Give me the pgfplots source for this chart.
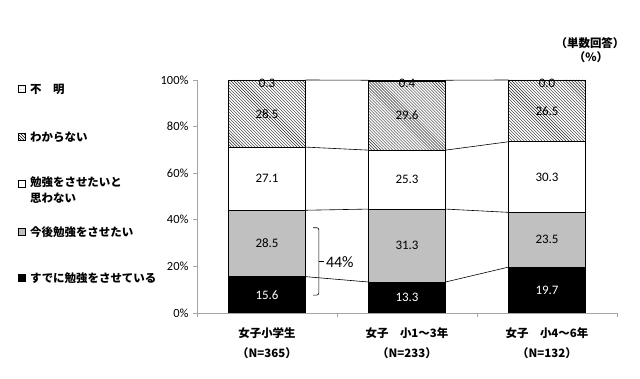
\documentclass[border=0pt]{standalone}
\usepackage{pgfplots}
\pgfplotsset{compat=1.18}
\usepackage{pgfplotstable}
\usepackage{fontspec}
\setmainfont{Carlito}
\newfontfamily\cjk{Noto Sans CJK JP}
\usetikzlibrary{patterns}
\definecolor{midgray}{RGB}{192,192,192}
\definecolor{axisgray}{RGB}{165,165,165}

\pgfplotstableread{
x sude kongo omowanai wakaranai fumei
0 15.6 28.5 27.1 28.5 0.3
1 13.3 31.3 25.3 29.6 0.4
2 19.7 23.5 30.3 26.5 0.0
}\shares

\pgfplotstableread{
x y lab
0 7.80 15.6
1 6.65 13.3
2 9.85 19.7
}\labwhite

\pgfplotstableread{
x y lab
0 29.85 28.5
0 57.65 27.1
0 85.45 28.5
0 98.5 0.3
1 28.95 31.3
1 57.25 25.3
1 84.7 29.6
1 98.5 0.4
2 31.45 23.5
2 58.35 30.3
2 86.75 26.5
2 98.5 0.0
}\labblack

\pgfplotsset{base/.style={at={(197bp,66bp)}, anchor=south west, scale only axis,
  width=420bp, height=233bp, xmin=-0.5, xmax=2.5, ymin=0, ymax=100}}

\begin{document}
\begin{tikzpicture}
\path[use as bounding box] (0,0) rectangle (640bp,379bp);
\begin{axis}[base, ybar stacked, bar width=0.55,
  axis x line*=bottom, axis y line*=left,
  axis line style={axisgray, line width=0.8pt, -},
  tick align=outside,
  xtick={0,1,2}, minor xtick={-0.5,0.5,1.5,2.5},
  major x tick style={draw=none},
  minor x tick style={axisgray, line width=0.8pt},
  minor tick length=4bp, major tick length=4bp,
  y tick style={axisgray, line width=0.8pt},
  ytick={0,20,40,60,80,100},
  yticklabel={\pgfmathprintnumber{\tick}\%},
  /pgf/number format/assume math mode=true,
  yticklabel style={font=\fontsize{12.5}{13}\selectfont, xshift=-1bp},
  xticklabels={女子小学生\\（N=365）, 女子　小1～3年\\（N=233）, 女子　小4～6年\\（N=132）},
  xticklabel style={align=center, font=\cjk\bfseries\fontsize{11.5}{20}\selectfont, yshift=-7bp},
]
\addplot[fill=black, draw=black, line width=0.6pt] table[x=x, y=sude]{\shares};
\addplot[fill=midgray, draw=black, line width=0.6pt] table[x=x, y=kongo]{\shares};
\addplot[fill=white, draw=black, line width=0.6pt] table[x=x, y=omowanai]{\shares};
\addplot[pattern=north west lines, pattern color=black!85, draw=black, line width=0.6pt] table[x=x, y=wakaranai]{\shares};
\addplot[pattern=dots, pattern color=gray, draw=black, line width=0.6pt] table[x=x, y=fumei]{\shares};
\end{axis}
\begin{axis}[base, hide axis, clip=false]
\addplot[black, line width=0.6pt, mark=none] coordinates {(0.275,15.6) (0.725,13.3)};
\addplot[black, line width=0.6pt, mark=none] coordinates {(0.275,44.1) (0.725,44.6)};
\addplot[black, line width=0.6pt, mark=none] coordinates {(0.275,71.2) (0.725,69.9)};
\addplot[black, line width=0.6pt, mark=none] coordinates {(0.275,100) (0.725,99.9)};
\addplot[black, line width=0.6pt, mark=none] coordinates {(1.275,13.3) (1.725,19.7)};
\addplot[black, line width=0.6pt, mark=none] coordinates {(1.275,44.6) (1.725,43.2)};
\addplot[black, line width=0.6pt, mark=none] coordinates {(1.275,69.9) (1.725,73.5)};
\addplot[black, line width=0.6pt, mark=none] coordinates {(1.275,99.9) (1.725,100)};
\addplot[draw=none, mark=none, nodes near coords, point meta=explicit symbolic,
  nodes near coords style={anchor=center, text=white, font=\fontsize{13}{14}\selectfont}]
  table[x=x, y=y, meta=lab]{\labwhite};
\addplot[draw=none, mark=none, nodes near coords, point meta=explicit symbolic,
  nodes near coords style={anchor=center, text=black, font=\fontsize{13}{14}\selectfont}]
  table[x=x, y=y, meta=lab]{\labblack};
\draw[black, line width=0.6pt, rounded corners=2bp]
  (axis cs:0.33,36.6) -- (axis cs:0.37,36.6) -- (axis cs:0.37,7.7) -- (axis cs:0.33,7.7);
\draw[black, line width=0.6pt] (axis cs:0.37,22) -- (axis cs:0.41,22);
\node[anchor=west, font=\fontsize{16}{17}\selectfont, inner sep=0pt] at (axis cs:0.42,22) {44\%};
\end{axis}
% legend
\begin{scope}[font=\cjk\bfseries\fontsize{11.5}{17}\selectfont]
\draw[black, line width=0.5pt, pattern=dots, pattern color=gray] (18.5bp,286.5bp) rectangle (25.5bp,293.5bp);
\node[anchor=west, inner sep=0pt] at (30bp,290bp) {不　明};
\draw[black, line width=0.5pt, pattern=north west lines] (18.5bp,238.5bp) rectangle (25.5bp,245.5bp);
\node[anchor=west, inner sep=0pt] at (30bp,242bp) {わからない};
\draw[black, line width=0.5pt, fill=white] (18.5bp,191.5bp) rectangle (25.5bp,198.5bp);
\node[anchor=north west, inner sep=0pt, align=left] at (30bp,203bp) {勉強をさせたいと\\思わない};
\draw[black, line width=0.5pt, fill=midgray] (18.5bp,143.5bp) rectangle (25.5bp,150.5bp);
\node[anchor=west, inner sep=0pt] at (30bp,147bp) {今後勉強をさせたい};
\draw[black, line width=0.5pt, fill=black] (18.5bp,97.5bp) rectangle (25.5bp,104.5bp);
\node[anchor=west, inner sep=0pt] at (30bp,101bp) {すでに勉強をさせている};
\node[inner sep=0pt, font=\cjk\bfseries\fontsize{11.5}{12}\selectfont] at (590bp,336bp) {（単数回答）};
\node[inner sep=0pt, font=\cjk\bfseries\fontsize{11.5}{12}\selectfont] at (591bp,322bp) {（\%）};
\end{scope}
\end{tikzpicture}
\end{document}
